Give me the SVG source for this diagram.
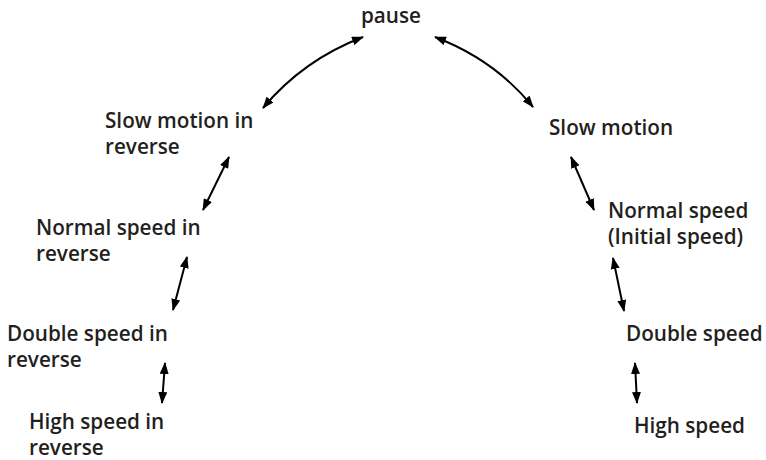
<svg xmlns="http://www.w3.org/2000/svg" width="766" height="460" viewBox="0 0 766 460">
<style>
text{font-family:"Open Sans","Noto Sans","DejaVu Sans",sans-serif;font-weight:600;font-size:20.7px;fill:#231f20}
.c{fill:none;stroke:#000;stroke-width:2;marker-start:url(#ah);marker-end:url(#ah)}
</style>
<defs>
<marker id="ah" viewBox="0 0 12 9" refX="11" refY="4.5" markerWidth="12" markerHeight="9" markerUnits="userSpaceOnUse" orient="auto-start-reverse">
<path d="M0,0 L12,4.5 L0,9 z" fill="#000"/>
</marker>
</defs>
<g id="pause"><text x="391" y="23" text-anchor="middle">pause</text></g>
<g id="slow-rev"><text x="105" y="128">Slow motion in</text><text x="105" y="154">reverse</text></g>
<g id="normal-rev"><text x="36" y="235">Normal speed in</text><text x="36" y="261">reverse</text></g>
<g id="double-rev"><text x="7" y="341">Double speed in</text><text x="7" y="367">reverse</text></g>
<g id="high-rev"><text x="29" y="429">High speed in</text><text x="29" y="455">reverse</text></g>
<g id="slow"><text x="549" y="135">Slow motion</text></g>
<g id="normal"><text x="608" y="218">Normal speed</text><text x="608" y="244">(Initial speed)</text></g>
<g id="double"><text x="626" y="341">Double speed</text></g>
<g id="high"><text x="634" y="433">High speed</text></g>
<g id="connectors">
<path class="c" d="M263,108 Q303,60 363,37"/>
<path class="c" d="M435,37 Q495,60 533,107"/>
<line class="c" x1="229" y1="157" x2="203" y2="210"/>
<line class="c" x1="187" y1="257" x2="173" y2="310"/>
<line class="c" x1="165" y1="363" x2="162" y2="403"/>
<line class="c" x1="571" y1="157" x2="594" y2="210"/>
<line class="c" x1="613" y1="258" x2="624" y2="311"/>
<line class="c" x1="635" y1="363" x2="637" y2="403"/>
</g>
</svg>
